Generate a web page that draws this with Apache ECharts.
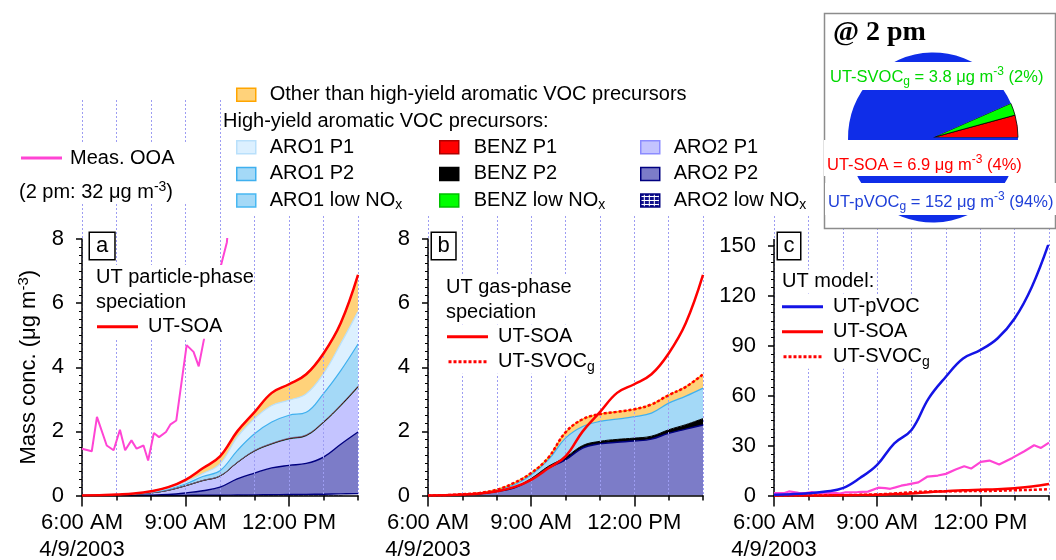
<!DOCTYPE html>
<html><head><meta charset="utf-8">
<script src="https://cdn.jsdelivr.net/npm/echarts@6.0.0/dist/echarts.min.js"></script>
<style>html,body{margin:0;padding:0;background:#fff}#chart{width:1056px;height:560px}</style>
</head><body><div id="chart"></div>
<script>
// ================= DATA =================
const modelTimes = ['6:00','6:30','7:00','7:30','8:00','8:30','9:00','9:30','10:00','10:30','11:00','11:30','12:00','12:30','13:00','13:30','14:00'];

// panel a: UT particle-phase speciation (stacked, µg m-3)
const pAro2LowNOx = [0,0,0,0,0,0,0.005,0.01,0.01,0.015,0.02,0.025,0.03,0.035,0.04,0.05,0.06];
const pAro2P2     = [0,0,0,0.005,0.01,0.03,0.075,0.14,0.25,0.505,0.68,0.835,0.91,0.965,1.16,1.55,1.92];
const pAro2P1     = [0,0.003,0.015,0.035,0.07,0.13,0.22,0.31,0.34,0.5,0.68,0.74,0.82,0.86,1.07,1.19,1.39];
const pBenzLowNOx = [0,0,0,0,0,0,0,0.001,0.001,0.002,0.002,0.003,0.003,0.003,0.004,0.004,0.005];
const pBenzP2     = [0,0,0,0,0.001,0.002,0.003,0.004,0.005,0.007,0.009,0.01,0.011,0.012,0.014,0.016,0.018];
const pBenzP1     = [0,0,0,0,0.001,0.002,0.003,0.004,0.005,0.007,0.008,0.01,0.011,0.012,0.013,0.015,0.018];
const pAro1LowNOx = [0,0,0,0,0,0.001,0.002,0.003,0.004,0.005,0.006,0.007,0.008,0.009,0.01,0.012,0.014];
const pAro1P2     = [0,0.001,0.005,0.01,0.018,0.035,0.05,0.12,0.16,0.36,0.52,0.66,0.71,0.70,0.87,1.06,1.30];
const pAro1P1     = [0,0.001,0.005,0.005,0.01,0.02,0.06,0.09,0.21,0.42,0.47,0.52,0.47,0.58,0.62,0.84,1.01];
const pOther      = [0,0,0.005,0.005,0.02,0.04,0.07,0.17,0.23,0.18,0.2,0.39,0.5,0.62,0.63,0.64,1.15];

// panel b: UT gas-phase speciation (stacked, µg m-3)
const gAro2P2 = [0,0.005,0.02,0.05,0.12,0.23,0.49,0.85,1.11,1.48,1.61,1.66,1.70,1.76,1.94,2.07,2.2];
const gBenzP2 = [0,0,0,0,0.01,0.02,0.04,0.06,0.08,0.08,0.08,0.09,0.09,0.09,0.11,0.14,0.2];
const gAro1P2 = [0,0.001,0.005,0.01,0.05,0.08,0.11,0.2,0.6,0.59,0.62,0.63,0.67,0.72,0.83,0.89,0.95];
const gOther  = [0,0.004,0.015,0.02,0.005,0.06,0.06,0.07,0.18,0.23,0.23,0.23,0.23,0.27,0.25,0.29,0.43];

// totals / model lines
const utSOA   = [0,0.005,0.03,0.06,0.13,0.26,0.49,0.85,1.22,2.0,2.6,3.2,3.47,3.78,4.43,5.38,6.88];
const utSVOCg = [0,0.01,0.04,0.08,0.18,0.39,0.7,1.18,1.97,2.38,2.54,2.61,2.69,2.84,3.13,3.39,3.78];
const utPVOC  = [0.4,0.8,1.4,2.4,4.4,10.5,18.4,31.4,39.4,58.4,71.4,82.4,87.4,94.4,106.4,125.4,152];

// measured OOA
const ooaTimes = ['6:00','6:17','6:26','6:43','6:55','7:06','7:15','7:26','7:35','7:47','7:55','8:05','8:14','8:26','8:34','8:44','9:02','9:14','9:23','9:32','9:42','9:52','10:03','10:12','10:28','10:46','11:00','11:17','11:32','11:44','12:01','12:16','12:33','12:56','13:17','13:34','13:46','14:00'];
const measOOA  = [1.46,1.38,2.45,1.56,1.41,2.05,1.41,1.72,1.46,1.56,1.09,1.95,1.82,1.98,2.22,2.34,4.69,4.48,4.03,4.86,5.9,6.5,7.27,7.9,11.4,12.0,13.0,15.6,17.6,16.2,20.2,21.0,18.6,22.6,26.6,30.2,28.6,31.8];

// pie @ 2 pm
const pieNames    = ['UT-SOA','UT-SVOCg','UT-pVOCg'];
const pieValues   = [6.9, 3.8, 152];
const piePercents = ['4%','2%','94%'];

// axis tick labels
const hourLabels   = ['6:00 AM','7:00 AM','8:00 AM','9:00 AM','10:00 AM','11:00 AM','12:00 PM','1:00 PM','2:00 PM'];
const labeledHours = ['6:00 AM','9:00 AM','12:00 PM'];
const dateLabel    = '4/9/2003';

// legend groups
const legendOther = ['Other than high-yield aromatic VOC precursors'];
const legendAro1  = ['ARO1 P1','ARO1 P2','ARO1 low NOx'];
const legendBenz  = ['BENZ P1','BENZ P2','BENZ low NOx'];
const legendAro2  = ['ARO2 P1','ARO2 P2','ARO2 low NOx'];

// ================= STYLE =================
const FONT = 'Liberation Sans';
function toTime(s){ const p = s.split(':').map(Number); return Date.UTC(2003, 3, 9, p[0], p[1]); }
function xy(times, vals){ return times.map((t,i)=>[toTime(t), vals[i]]); }
function patternGrid(){
  const c=document.createElement('canvas'); c.width=5; c.height=4; const g=c.getContext('2d');
  g.fillStyle='#10108c'; g.fillRect(0,0,5,4); g.fillStyle='#ffffff'; g.fillRect(0,2,5,1); g.fillRect(3,0,1,4);
  return {image:c, repeat:'repeat'};
}
const areaStyles = {
  'Other than high-yield aromatic VOC precursors': {fill:'#ffd27a', line:'#ffa500', w:1.2},
  'ARO1 P1': {fill:'#dcf0ff', line:'#b9e0fb', w:1.2},
  'ARO1 P2': {fill:'#a4d9f7', line:'#3fb0ef', w:1.2},
  'ARO1 low NOx': {fill:'#a4d9f7', line:'#48b8f2', w:0.5},
  'BENZ P1': {fill:'#ff0000', line:'#b00000', w:0.8},
  'BENZ P2': {fill:'#000000', line:'#000000', w:1},
  'BENZ low NOx': {fill:'#00ff00', line:'#00c000', w:0.5},
  'ARO2 P1': {fill:'#c4c4ff', line:'#8c8cff', w:1},
  'ARO2 P2': {fill:'#7c7cc8', line:'#000080', w:1.4},
  'ARO2 low NOx': {fill:patternGrid(), line:'#000080', w:1.4}
};
const RED='#ff0000', BLUE='#1414e6', PINK='#ff44d4';
const SMOOTH = 0.4;

function areaSeries(name, vals, stack, idx){
  const s = areaStyles[name];
  return {type:'line', name, xAxisIndex:idx, yAxisIndex:idx, stack, stackStrategy:'all', data:xy(modelTimes, vals),
    symbol:'none', smooth:SMOOTH, silent:true,
    lineStyle:{color:s.line, width:s.w}, itemStyle:{color:s.line},
    areaStyle:{color:s.fill, opacity:1}, z:2};
}
function lineSeries(name, times, vals, idx, color, width, dash, smooth){
  return {type:'line', name, xAxisIndex:idx, yAxisIndex:idx, data:xy(times, vals), symbol:'none',
    smooth: smooth, silent:true,
    lineStyle:{color, width, type: dash ? [3,2] : 'solid'}, itemStyle:{color}, z:6};
}

const sub = {fontSize:14, fontFamily:FONT, lineHeight:6, verticalAlign:'bottom'};
const sup = {fontSize:14, fontFamily:FONT, lineHeight:8, verticalAlign:'top'};
function fmtName(n){ return n.replace(/NOx$/, 'NO{sub|x}').replace(/VOCg$/, 'VOC{sub|g}'); }
const legendText = {fontSize:20, fontFamily:FONT, color:'#000', lineHeight:24, rich:{sub}};
const dottedIcon = 'path://M0,0h3v3h-3zM5,0h3v3h-3zM10,0h3v3h-3zM15,0h3v3h-3zM20,0h3v3h-3zM25,0h3v3h-3zM30,0h3v3h-3zM35,0h3v3h-3z';

function swatchLegend(names, left, top, pad){
  return {left, top, orient:'vertical', itemWidth:19, itemHeight:13, itemGap:2.6, padding:0,
    selectedMode:false, icon:'rect', z:7, formatter:fmtName,
    textStyle:Object.assign({}, legendText, {padding:[0,0,0,pad]}),
    data:names.map(n=>({name:n, itemStyle:{color:areaStyles[n].fill, borderColor:areaStyles[n].line, borderWidth:1.5}}))};
}
function lineLegend(items, left, top, pad){
  return {left, top, orient:'vertical', itemWidth:41, itemHeight:3, itemGap:1, padding:0,
    selectedMode:false, backgroundColor:'#fff', z:7, formatter:fmtName,
    textStyle:Object.assign({}, legendText, {padding:[0,0,0,pad]}),
    data:items.map(it=>({name:it[0], icon: it[2] ? dottedIcon : 'rect', itemStyle:{color:it[1], borderWidth:0}}))};
}

// ================= AXES =================
const gridsMain = [
  {left:82, top:239, width:276, height:256.5},
  {left:428, top:239, width:275, height:256.5},
  {left:774, top:246, width:275, height:249.5}
];
const gridsLines = [
  {left:82, top:100, width:276, height:395.5},
  {left:428, top:100, width:275, height:395.5},
  {left:774, top:100, width:275, height:395.5}
];
const blackLine = {color:'#000', width:1.5};
const T0 = toTime('6:00'), T1 = toTime('14:00');
function timeX(g){ return {type:'time', gridIndex:g, position:'bottom', min:T0, max:T1,
  axisLine:{show:true, onZero:false, lineStyle:blackLine}, axisTick:{show:false},
  axisLabel:{show:false}, splitLine:{show:false}, minorTick:{show:false}, z:5}; }
const isLabeled = (i)=>labeledHours.indexOf(hourLabels[i])>=0;
function hourTickX(g){ return {type:'category', gridIndex:g, position:'bottom', data:hourLabels, boundaryGap:false,
  axisLine:{show:false, onZero:false}, axisTick:{show:true, length:5, interval:0, lineStyle:blackLine},
  axisLabel:{show:false}, splitLine:{show:false}, z:5}; }
function labelX(g){ return {type:'category', gridIndex:g, position:'bottom', data:hourLabels, boundaryGap:false,
  axisLine:{show:false, onZero:false}, axisTick:{show:true, length:11, interval:(i)=>isLabeled(i), lineStyle:blackLine},
  axisLabel:{show:true, interval:(i)=>isLabeled(i), formatter:(v,i)=> i===0 ? v+'\n'+dateLabel : v,
    fontSize:22, color:'#000', fontFamily:FONT, lineHeight:27, margin:14},
  splitLine:{show:false}, z:5}; }
function gridX(g){ return {type:'category', gridIndex:g, position:'bottom', data:hourLabels, boundaryGap:false,
  axisLine:{show:false}, axisTick:{show:false}, axisLabel:{show:false},
  splitLine:{show:true, interval:0, lineStyle:{color:'#9d9df2', width:1, type:[2,2]}}, z:3}; }
function valueY(g, max, interval, minorSplit, extra){ return Object.assign({type:'value', gridIndex:g, position:'left',
  min:0, max, interval,
  axisLine:{show:true, onZero:false, lineStyle:blackLine}, axisTick:{show:true, length:6, lineStyle:blackLine},
  minorTick:{show:true, splitNumber:minorSplit, length:3, lineStyle:{color:'#000', width:1}},
  axisLabel:{fontSize:22, color:'#000', fontFamily:FONT, margin:18},
  splitLine:{show:false}, minorSplitLine:{show:false}, z:5}, extra||{}); }

const series = [];
// panel a stack
const stackA = [['ARO2 low NOx',pAro2LowNOx],['ARO2 P2',pAro2P2],['ARO2 P1',pAro2P1],['BENZ low NOx',pBenzLowNOx],
  ['BENZ P2',pBenzP2],['BENZ P1',pBenzP1],['ARO1 low NOx',pAro1LowNOx],['ARO1 P2',pAro1P2],['ARO1 P1',pAro1P1],
  ['Other than high-yield aromatic VOC precursors',pOther]];
stackA.forEach(s=>series.push(areaSeries(s[0], s[1], 'pa', 0)));
series.push(lineSeries('Meas. OOA', ooaTimes, measOOA, 0, PINK, 2, false, false));
series.push(lineSeries('UT-SOA', modelTimes, utSOA, 0, RED, 2.5, false, SMOOTH));
// panel b stack
const stackB = [['ARO2 P2',gAro2P2],['BENZ P2',gBenzP2],['ARO1 P2',gAro1P2],['Other than high-yield aromatic VOC precursors',gOther]];
stackB.forEach(s=>series.push(areaSeries(s[0], s[1], 'pb', 1)));
series.push(lineSeries('UT-SOA', modelTimes, utSOA, 1, RED, 2.5, false, SMOOTH));
series.push(lineSeries('UT-SVOCg', modelTimes, utSVOCg, 1, RED, 2.5, true, SMOOTH));
// panel c
series.push(lineSeries('Meas. OOA', ooaTimes, measOOA, 2, PINK, 2.2, false, false));
series.push(lineSeries('UT-SVOCg', modelTimes, utSVOCg, 2, RED, 2.5, true, SMOOTH));
series.push(lineSeries('UT-SOA', modelTimes, utSOA, 2, RED, 2.5, false, SMOOTH));
series.push(lineSeries('UT-pVOC', modelTimes, utPVOC, 2, BLUE, 2.5, false, SMOOTH));
// pie
const pieColors = ['#ff0000','#00ff00','#0f2de8'];
series.push({type:'pie', center:[933,137.5], radius:85, startAngle:0, clockwise:false, silent:true, z:9,
  label:{show:false}, labelLine:{show:false}, emphasis:{disabled:true},
  data:pieNames.map((n,i)=>({name:n, value:pieValues[i],
    itemStyle:{color:pieColors[i], borderColor:'#000', borderWidth: i<2 ? 0.8 : 0}}))});

// ================= GRAPHICS =================
function txt(x, y, text, o){
  o = o || {};
  return {type:'text', x, y, z:o.z||8, silent:true, style:Object.assign({text, fontSize:20, fontFamily:FONT,
    fill:'#000', lineHeight:24, verticalAlign:'middle', align:'left', rich:{sub, sup}}, o.style||{})};
}
function boxLetter(x, y, t, padH){
  return txt(x, y, t, {style:{fontSize:22, lineHeight:22, verticalAlign:'top', padding:[2,padH,2,padH],
    borderColor:'#000', borderWidth:1.5, backgroundColor:'#fff'}});
}
const pieLabelStyle = {fontSize:16.5, lineHeight:22, verticalAlign:'top',
  rich:{sub:{fontSize:12, fontFamily:FONT, lineHeight:6, verticalAlign:'bottom'},
        sup:{fontSize:12, fontFamily:FONT, lineHeight:8, verticalAlign:'top'}}, backgroundColor:'#fff'};
function pieLabel(i){
  return fmtName(pieNames[i]) + ' = ' + pieValues[i] + ' μg m{sup|-3} (' + piePercents[i] + ')';
}
const graphics = [
  {type:'rect', z:4, silent:true, shape:{x:222, y:80, width:602, height:136}, style:{fill:'#fff'}},
  {type:'rect', z:4, silent:true, shape:{x:15, y:143, width:190, height:61}, style:{fill:'#fff'}},
  txt(223, 121, 'High-yield aromatic VOC precursors:'),
  txt(19, 192, '(2 pm: 32 μg m{sup|-3})'),
  txt(96, 265, 'UT particle-phase\nspeciation', {style:{verticalAlign:'top', lineHeight:25, backgroundColor:'#fff'}}),
  txt(446, 275.5, 'UT gas-phase\nspeciation', {style:{verticalAlign:'top', lineHeight:24.5, backgroundColor:'#fff'}}),
  txt(782, 269.5, 'UT model:', {style:{verticalAlign:'top', backgroundColor:'#fff'}}),
  boxLetter(90, 233, 'a', 6),
  boxLetter(432, 233, 'b', 5.5),
  boxLetter(778, 233, 'c', 5.5),
  {type:'line', z:5, silent:true, shape:{x1:774, y1:239, x2:774, y2:246}, style:{stroke:'#000', lineWidth:1.5}},
  {type:'rect', z:8, silent:true, shape:{x:824.5, y:13.5, width:231, height:215}, style:{fill:'#fff', stroke:'#8c8c8c', lineWidth:1.5}},
  txt(833, 33, '@ 2 pm', {z:10, style:{fontSize:28, fontWeight:'bold', fontFamily:'Liberation Serif'}}),
  txt(827, 62, pieLabel(1), {z:10, style:Object.assign({}, pieLabelStyle, {fill:'#00d800', padding:[4,3,2,3]})}),
  txt(824, 140, pieLabel(0), {z:10, style:Object.assign({}, pieLabelStyle, {fill:'#ff0000', padding:[14,3,0,3]})}),
  txt(825, 183, pieLabel(2), {z:10, style:Object.assign({}, pieLabelStyle, {fill:'#1f3fd8', padding:[8,3,2,3]})})
];

const option = {
  animation:false,
  textStyle:{fontFamily:FONT},
  grid: gridsMain.concat(gridsLines).map(g=>Object.assign({containLabel:false, outerBoundsMode:'none'}, g)),
  xAxis:[timeX(0), timeX(1), timeX(2), labelX(0), labelX(1), labelX(2), hourTickX(0), hourTickX(1), hourTickX(2), gridX(3), gridX(4), gridX(5)],
  yAxis:[
    valueY(0, 8, 2, 8, {name:'Mass conc. (μg m{sup|-3})', nameLocation:'middle', nameGap:40,
      nameTextStyle:{fontSize:22, color:'#000', fontFamily:FONT, lineHeight:26, rich:{sup:{fontSize:15, fontFamily:FONT, lineHeight:8, verticalAlign:'top'}}}}),
    valueY(1, 8, 2, 8),
    valueY(2, 150, 30, 6),
    {type:'value', gridIndex:3, min:0, max:1, show:false},
    {type:'value', gridIndex:4, min:0, max:1, show:false},
    {type:'value', gridIndex:5, min:0, max:1, show:false}
  ],
  legend:[
    swatchLegend(legendOther, 236, 82.7, 9),
    swatchLegend(legendAro1, 236, 135.3, 9),
    swatchLegend(legendBenz, 439, 135.3, 10),
    swatchLegend(legendAro2, 640, 135.3, 9),
    lineLegend([['Meas. OOA', PINK, false]], 21, 146, 3),
    lineLegend([['UT-SOA', RED, false]], 97, 314.7, 5),
    lineLegend([['UT-SOA', RED, false],['UT-SVOCg', RED, true]], 447, 324.7, 5),
    lineLegend([['UT-pVOC', BLUE, false],['UT-SOA', RED, false],['UT-SVOCg', RED, true]], 782, 294.7, 5)
  ],
  series,
  graphic:{elements:graphics}
};
const chart = echarts.init(document.getElementById('chart'), null, {renderer:'canvas'});
chart.setOption(option);
</script>
</body></html>
